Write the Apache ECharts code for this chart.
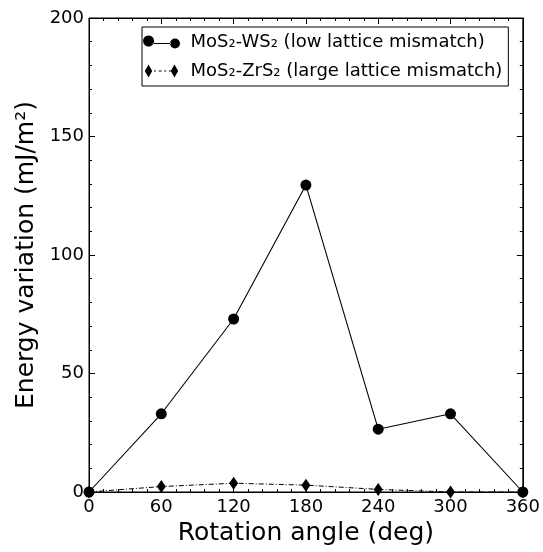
<!DOCTYPE html>
<html><head><meta charset="utf-8">
<script src="https://cdn.jsdelivr.net/npm/echarts@6/dist/echarts.min.js"></script>
<style>html,body{margin:0;padding:0;background:#fff}#c{width:543px;height:552px}</style>
</head><body><div id="c"></div>
<script>
const angles = [0, 60, 120, 180, 240, 300, 360];
const ws2 = [0, 33, 73, 129.5, 26.5, 33, 0];
const zrs2 = [0, 2.3, 3.7, 2.9, 1.1, 0, 0];
const seriesNames = ['MoS\u2082-WS\u2082 (low lattice mismatch)', 'MoS\u2082-ZrS\u2082 (large lattice mismatch)'];
const xName = 'Rotation angle (deg)';
const yName = 'Energy variation (mJ/m\u00b2)';

const FONT = 'DejaVu Sans';
const circleIcon = 'path://M0,6A6,6 0 1,0 12,0A6,6 0 1,0 0,6Z M11,5.4H33V6.6H11Z M32,6A6,6 0 1,0 44,6A6,6 0 1,0 32,6Z';
const diamondIcon = 'path://M4,0L8,7L4,14L0,7Z M10,6.5h2v1h-2Z M15,6.5h3v1h-3Z M21,6.5h2v1h-2Z M26,6.5h3v1h-3Z M32,0L36,7L32,14L28,7Z';

const chart = echarts.init(document.getElementById('c'));
function axisCommon() {
  return {
    axisLine: {show: true, onZero: false, lineStyle: {color: '#000', width: 1}},
    axisTick: {show: true, inside: true, length: 6, lineStyle: {color: '#000'}},
    minorTick: {show: true, splitNumber: 5, length: 3, lineStyle: {color: '#000'}},
    splitLine: {show: false}
  };
}
chart.setOption({
  animation: false,
  backgroundColor: '#fff',
  grid: {left: 89, right: 20, top: 18, bottom: 60, show: true, borderColor: '#000', borderWidth: 1},
  legend: {
    orient: 'vertical', left: 142, top: 27,
    padding: [6, 6, 6, 1],
    itemGap: 11,
    borderColor: '#000', borderWidth: 1, backgroundColor: '#fff',
    itemWidth: 40, itemHeight: 13,
    textStyle: {fontFamily: FONT, fontSize: 18, color: '#000', padding: [0, 0, 0, 4]},
    data: [{name: seriesNames[0], icon: circleIcon}, {name: seriesNames[1], icon: diamondIcon}]
  },
  xAxis: [
    Object.assign(axisCommon(), {
      type: 'value', min: 0, max: 360, interval: 60,
      name: xName, nameLocation: 'middle', nameGap: 28,
      nameTextStyle: {fontFamily: FONT, fontSize: 25, color: '#000'},
      axisLabel: {fontFamily: FONT, fontSize: 18, color: '#000', margin: 6}
    }),
    Object.assign(axisCommon(), {
      type: 'value', min: 0, max: 360, interval: 60, position: 'top',
      axisLabel: {show: false}
    })
  ],
  yAxis: [
    Object.assign(axisCommon(), {
      type: 'value', min: 0, max: 200, interval: 50,
      name: yName, nameLocation: 'middle', nameGap: 48,
      nameTextStyle: {fontFamily: FONT, fontSize: 25, color: '#000'},
      axisLabel: {fontFamily: FONT, fontSize: 18, color: '#000', margin: 5}
    }),
    Object.assign(axisCommon(), {
      type: 'value', min: 0, max: 200, interval: 50, position: 'right',
      axisLabel: {show: false}
    })
  ],
  series: [
    {
      name: seriesNames[0], type: 'line',
      data: angles.map((a, i) => [a, ws2[i]]),
      symbol: 'circle', symbolSize: 11,
      itemStyle: {color: '#000'},
      lineStyle: {color: '#000', width: 1.1},
      z: 3
    },
    {
      name: seriesNames[1], type: 'line',
      data: angles.map((a, i) => [a, zrs2[i]]),
      symbol: 'diamond', symbolSize: [9, 13],
      itemStyle: {color: '#000'},
      lineStyle: {color: '#000', width: 1, type: [5, 2, 1, 2]},
      z: 2
    }
  ]
});
</script></body></html>
